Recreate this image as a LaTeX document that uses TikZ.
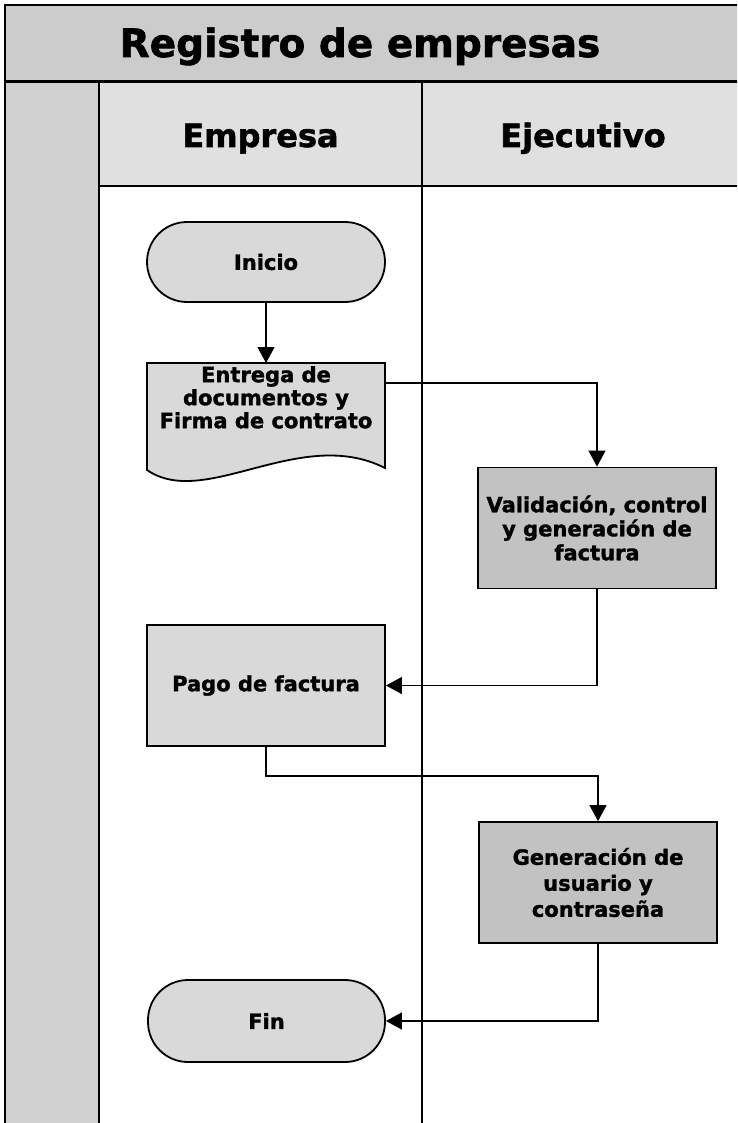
\documentclass[tikz,border=0pt]{standalone}
\usepackage{fontspec}
\setmainfont{DejaVu Sans}[BoldFeatures={FakeBold=1.6}]
\usepackage{xcolor}
\usetikzlibrary{positioning,calc,arrows.meta}

\definecolor{bandgray}{gray}{0.80}
\definecolor{lanegray}{gray}{0.88}
\definecolor{boxlight}{gray}{0.85}
\definecolor{boxdark}{gray}{0.76}
\newcommand{\flowfont}{\fontsize{21}{24}\selectfont\bfseries}

\begin{document}
\begin{tikzpicture}[x=1pt, y=-1pt,
    flow/.style={-{Triangle[length=16pt,width=17pt]}, line width=1.2pt},
    terminal/.style={draw, line width=1.8pt, fill=boxlight, rounded corners=40pt,
        minimum width=238pt, minimum height=80pt, font=\flowfont},
    process/.style={draw, line width=1.8pt, fill=boxdark, minimum width=238pt,
        minimum height=121pt, align=center, font=\flowfont},
    header/.style={anchor=base, font=\fontsize{32}{36}\selectfont\bfseries}]
    \useasboundingbox (0,0) rectangle (737,1123);
    \clip (0,0) rectangle (737,1123);

    % Bands and lanes
    \fill[bandgray] (5,5) rectangle (744,82);
    \fill[lanegray] (99,82) rectangle (744,186);
    \fill[bandgray!90!white] (5,82) rectangle (99,1130);
    \draw[line width=2pt] (5,1130) -- (5,5) -- (744,5);
    \draw[line width=3pt] (5,82) -- (744,82);
    \draw[line width=1.5pt] (99,186) -- (744,186);
    \draw[line width=2pt] (99,82) -- (99,1130);
    \draw[line width=1.5pt] (422,82) -- (422,1130);

    \node[anchor=base, font=\fontsize{39}{44}\selectfont\bfseries] (title) at (360,57) {Registro de empresas};
    \node[header] (empresa) at (260.5,147) {Empresa};
    \node[header] (ejecutivo) at (583,147) {Ejecutivo};

    % Document shape
    \draw[line width=1.8pt, fill=boxlight] (147,363) -- (385,363) -- (385,468)
        .. controls (300,425) and (205,510) .. (147,470) -- cycle;

    % Steps
    \node[terminal] (inicio) at (266,262) {Inicio};
    \node[anchor=north, minimum width=238pt, inner ysep=3pt, align=center, font=\fontsize{21}{23}\selectfont\bfseries] (entrega) at (266,363)
        {Entrega de\\documentos y\\Firma de contrato};
    \node[process] (valid) at (597,528) {Validación, control\\y generación de\\factura};
    \node[process, fill=boxlight] (pago) at (266,685.5) {Pago de factura};
    \node[process, font=\fontsize{21}{26}\selectfont\bfseries] (gener) at (598,882.5) {Generación de\\usuario y\\contraseña};
    \node[terminal, minimum height=82pt, minimum width=237pt] (fin) at (266.5,1021) {Fin};

    % Connectors
    \draw[flow] (inicio) -- (entrega);
    \draw[flow] ($(entrega.north east)+(0,20)$) -| (valid);
    \draw[flow] (valid) |- (pago);
    \draw[flow] (pago.south) -- ++(0,29) -| (gener);
    \draw[flow] (gener) |- (fin);
\end{tikzpicture}
\end{document}
